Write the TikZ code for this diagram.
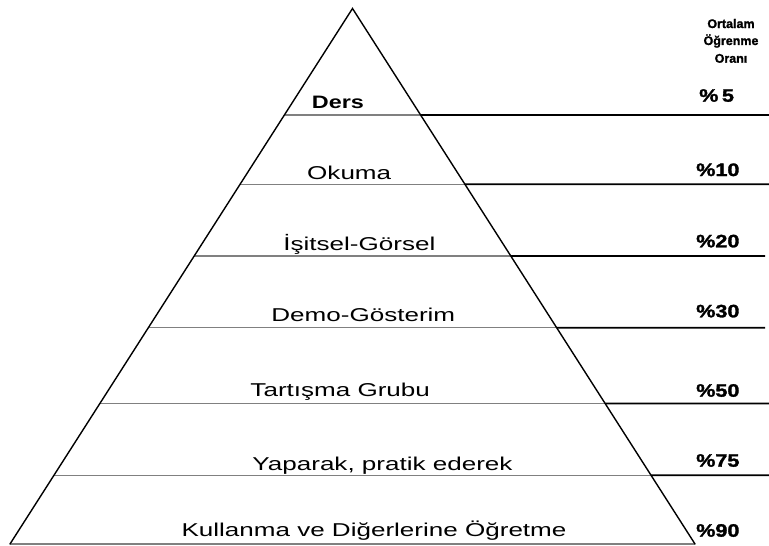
\documentclass[tikz,border=0pt]{standalone}
\usepackage{fontspec}
\setmainfont{Liberation Sans}
\newfontfamily\heavyfont{Liberation Sans Bold}[FakeBold=1.6]
\usepackage{graphicx}
\usetikzlibrary{calc}
\newcommand{\hs}[2][1.4]{\scalebox{#1}[1]{#2}}
\begin{document}
\begin{tikzpicture}[x=1pt,y=-1pt,
  sideedge/.style={line width=1.4pt, black, line cap=round},
  levelline/.style={line width=1.4pt, color=black!50},
  leadline/.style={line width=1.8pt, black},
  lab/.style={anchor=base, inner sep=0pt, font=\fontsize{18.6}{20}\selectfont},
  pct/.style={anchor=base west, inner sep=0pt, font=\fontsize{18}{20}\heavyfont},
  hdr/.style={anchor=base, inner sep=0pt, font=\fontsize{12.5}{14}\heavyfont}]
\useasboundingbox (0,0) rectangle (769,546);
% pyramid corners
\coordinate (A) at (352.5,8.5);
\coordinate (L) at (10,544);
\coordinate (R) at (695,544);
% level intersections
\coordinate (l1) at ($(A)!0.1989!(L)$); \coordinate (r1) at ($(A)!0.1989!(R)$); \coordinate (e1) at (769,115);
\coordinate (l2) at ($(A)!0.3283!(L)$); \coordinate (r2) at ($(A)!0.3283!(R)$); \coordinate (e2) at (769,184.3);
\coordinate (l3) at ($(A)!0.4622!(L)$); \coordinate (r3) at ($(A)!0.4622!(R)$); \coordinate (e3) at (765,256);
\coordinate (l4) at ($(A)!0.5961!(L)$); \coordinate (r4) at ($(A)!0.5961!(R)$); \coordinate (e4) at (765,327.7);
\coordinate (l5) at ($(A)!0.7376!(L)$); \coordinate (r5) at ($(A)!0.7376!(R)$); \coordinate (e5) at (769,403.5);
\coordinate (l6) at ($(A)!0.8717!(L)$); \coordinate (r6) at ($(A)!0.8717!(R)$); \coordinate (e6) at (769,475.3);
% gray level lines
\foreach \i in {1,...,6} {\draw[levelline] (l\i) -- (r\i);}
\draw[levelline] (L) -- (R);
% black lead lines to the right
\foreach \i in {1,...,6} {\draw[leadline] (r\i) -- (e\i);}
% pyramid sides
\draw[sideedge] (L) -- (A) -- (R);
% labels
\node[lab, font=\fontsize{18}{20}\selectfont\bfseries] (t1) at (338,108.3) {\hs[1.3]{Ders}};
\node[lab] (t2) at (349.2,179) {\hs{Okuma}};
\node[lab] (t3) at (359.4,250) {\hs{İşitsel-Görsel}};
\node[lab] (t4) at (363.3,321.7) {\hs{Demo-Gösterim}};
\node[lab] (t5) at (340.2,396.7) {\hs{Tartışma Grubu}};
\node[lab] (t6) at (382.5,470) {\hs{Yaparak, pratik ederek}};
\node[lab] (t7) at (374,536) {\hs{Kullanma ve Diğerlerine Öğretme}};
% header
\node[hdr] (h1) at (731,28) {Ortalam};
\node[hdr] (h2) at (731,45) {Öğrenme};
\node[hdr] (h3) at (731,62.7) {Oranı};
% percentages
\node[pct] (p1) at (699,101.7) {\hs[1.2]{\%\,5}};
\node[pct] (p2) at (696,176) {\hs[1.2]{\%10}};
\node[pct] (p3) at (696,247.3) {\hs[1.2]{\%20}};
\node[pct] (p4) at (696,317.3) {\hs[1.2]{\%30}};
\node[pct] (p5) at (696,396.7) {\hs[1.2]{\%50}};
\node[pct] (p6) at (696,466.7) {\hs[1.2]{\%75}};
\node[pct] (p7) at (696,536.7) {\hs[1.2]{\%90}};
\end{tikzpicture}
\end{document}
